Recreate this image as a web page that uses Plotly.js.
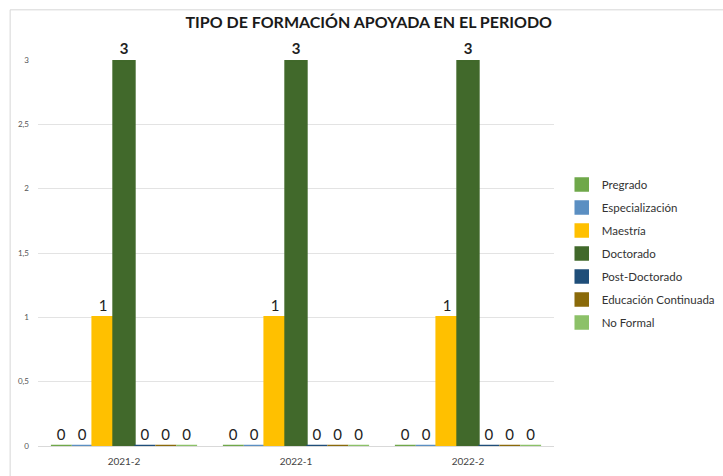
<!DOCTYPE html>
<html>
<head>
<meta charset="utf-8">
<script src="https://cdn.plot.ly/plotly-3.0.1.min.js"></script>
<style>html,body{margin:0;padding:0;background:#fff;}#chart{width:723px;height:476px;}</style>
</head>
<body>
<div id="chart"></div>
<script>
const periods = ['2021-2', '2022-1', '2022-2'];
const seriesNames = ['Pregrado', 'Especialización', 'Maestría', 'Doctorado', 'Post-Doctorado', 'Educación Continuada', 'No Formal'];
const pregrado = [0, 0, 0];
const especializacion = [0, 0, 0];
const maestria = [1, 1, 1];
const doctorado = [3, 3, 3];
const postDoctorado = [0, 0, 0];
const educacionContinuada = [0, 0, 0];
const noFormal = [0, 0, 0];
const yTicks = [0, 0.5, 1, 1.5, 2, 2.5, 3];

const seriesValues = [pregrado, especializacion, maestria, doctorado, postDoctorado, educacionContinuada, noFormal];
const colors = ['#6FA84A', '#5B8FC2', '#FFC000', '#41692B', '#1F4E79', '#8A6A0A', '#8CC168'];
const FONT = 'Lato, Carlito, sans-serif';

const traces = seriesNames.map((name, i) => ({
  type: 'bar',
  name: name,
  x: periods,
  y: seriesValues[i],
  legendgroup: 'g' + i,
  marker: {color: colors[i], line: {color: colors[i], width: 2.5}},
  text: seriesValues[i].map(v => i === 3 ? '<b>' + v + '</b>' : String(v)),
  textposition: 'outside',
  cliponaxis: false,
  textfont: {family: FONT, size: 15, color: '#222'},
  hoverinfo: 'name+y'
}));

const layout = {
  width: 723, height: 476,
  paper_bgcolor: '#fff', plot_bgcolor: '#fff',
  separators: ', ',
  margin: {l: 38, r: 169, t: 60, b: 30, autoexpand: false},
  title: {text: '<b>TIPO DE FORMACIÓN APOYADA EN EL PERIODO</b>', x: 0.51, xanchor: 'center', y: 0.953, yanchor: 'middle',
          font: {family: FONT, size: 16, color: '#1a1a1a'}},
  barmode: 'group', bargap: 0.15, bargroupgap: 0,
  showlegend: true,
  legend: {x: 1.015, xanchor: 'left', y: 0.715, yanchor: 'top', tracegroupgap: 4, itemwidth: 30,
           font: {family: FONT, size: 11.5, color: '#333'}, bgcolor: 'rgba(0,0,0,0)'},
  xaxis: {type: 'category', tickfont: {family: FONT, size: 10, color: '#444'}, showline: false, ticks: '', showgrid: false, ticklabelstandoff: 8},
  yaxis: {range: [0, 3], tickvals: yTicks, tickfont: {family: FONT, size: 8, color: '#555'},
          gridcolor: '#e3e3e3', zeroline: true, zerolinecolor: '#d9d9d9', showline: false, ticks: '', ticklabelstandoff: 8},
  shapes: [{type: 'rect', xref: 'paper', yref: 'paper', x0: -0.054, x1: 1.4, y0: -0.09, y1: 1.13,
            line: {color: '#d6d6d6', width: 1}, fillcolor: 'rgba(0,0,0,0)'}]
};

Plotly.newPlot('chart', traces, layout, {displayModeBar: false, staticPlot: true});
</script>
</body>
</html>
